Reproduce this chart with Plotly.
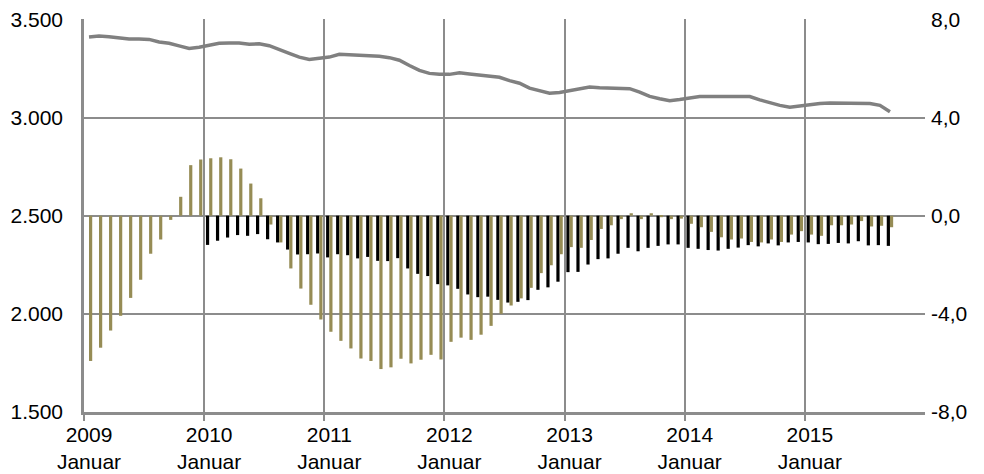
import plotly.graph_objects as go

months = [f"{y}-{m:02d}" for y in range(2009, 2016) for m in range(1, 13)][:81]
year_labels = ["2009<br>Januar", "2010<br>Januar", "2011<br>Januar", "2012<br>Januar",
               "2013<br>Januar", "2014<br>Januar", "2015<br>Januar"]

line_values = [
    3410, 3415, 3412, 3405, 3400, 3400, 3398, 3385, 3378, 3365, 3352, 3358,
    3368, 3378, 3380, 3380, 3373, 3376, 3366, 3345, 3327, 3308, 3296, 3302,
    3308, 3322, 3320, 3318, 3316, 3312, 3305, 3292, 3265, 3240, 3225, 3220,
    3220, 3228, 3222, 3215, 3210, 3205, 3188, 3175, 3150, 3138, 3124, 3128,
    3137, 3148, 3155, 3152, 3150, 3150, 3147, 3130, 3108, 3096, 3086, 3092,
    3100, 3107, 3107, 3106, 3108, 3108, 3107, 3090, 3074, 3062, 3052, 3058,
    3068, 3072, 3074, 3074, 3074, 3074, 3072, 3062, 3030,
]

olive_values = [
    -5.92, -5.38, -4.68, -4.08, -3.35, -2.61, -1.55, -0.97, -0.17, 0.77, 2.06, 2.29,
    2.34, 2.38, 2.30, 1.92, 1.31, 0.71, -0.36, -1.09, -2.15, -2.97, -3.63, -4.23,
    -4.73, -5.10, -5.41, -5.82, -5.92, -6.25, -6.18, -5.83, -6.02, -5.87, -5.67, -5.86,
    -5.14, -4.97, -5.06, -4.85, -4.49, -4.00, -3.66, -3.37, -2.94, -2.34, -2.02, -1.57,
    -1.28, -1.31, -0.99, -0.54, -0.39, -0.14, 0.10, -0.14, 0.10, -0.06, -0.14, -0.12,
    -0.33, -0.47, -0.66, -0.88, -0.97, -0.93, -1.07, -1.09, -0.97, -1.07, -0.77, -0.63,
    -0.77, -0.82, -0.39, -0.39, -0.36, -0.22, -0.44, -0.41, -0.47,
]

black_values = [None] * 12 + [
    -1.19, -1.02, -0.89, -0.79, -0.82, -0.75, -0.96, -1.09, -1.38, -1.58, -1.57, -1.54,
    -1.70, -1.57, -1.61, -1.74, -1.68, -1.84, -1.85, -1.73, -2.15, -2.37, -2.46, -2.79,
    -2.84, -2.98, -3.21, -3.32, -3.30, -3.43, -3.54, -3.51, -3.44, -3.02, -2.92, -2.69,
    -2.30, -2.29, -1.99, -1.77, -1.74, -1.55, -1.31, -1.45, -1.31, -1.23, -1.17, -1.17,
    -1.31, -1.35, -1.40, -1.42, -1.35, -1.30, -1.20, -1.25, -1.13, -1.21, -1.09, -1.07,
    -1.09, -1.16, -1.15, -1.11, -1.13, -1.04, -1.21, -1.20, -1.23,
]

right_ticks = [-8, -4, 0, 4, 8]
right_labels = ["-8,0", "-4,0", "0,0", "4,0", "8,0"]

x = list(range(len(months)))
jan_idx = [i for i in range(0, 84, 12)]
boundaries = [i - 0.5 for i in range(0, 84, 12)]

GRID = "#8c8c8c"
OLIVE = "#968c55"
FONT = dict(family="Liberation Sans, Arial, sans-serif", size=21, color="#000000")

fig = go.Figure()
fig.add_trace(go.Bar(x=x, y=black_values, marker=dict(color="#000000", line_width=0),
                     yaxis="y2", name="black"))
fig.add_trace(go.Bar(x=x, y=olive_values, marker=dict(color=OLIVE, line_width=0),
                     yaxis="y2", name="olive"))
fig.add_trace(go.Scatter(x=x, y=line_values, mode="lines",
                         line=dict(color="#808080", width=3.5), yaxis="y", name="line"))

# the page body has an 8px margin, so the figure is offset by 8px in the window
fig.update_layout(
    width=984, height=474,
    margin=dict(l=76, r=67, t=11, b=70),
    paper_bgcolor="white", plot_bgcolor="white",
    showlegend=False,
    barmode="group", bargap=0.36, bargroupgap=0.0,
    separators=",.",
    font=FONT,
    xaxis=dict(
        range=[-0.5, 83.5], tickmode="array", tickvals=jan_idx, ticktext=year_labels,
        showgrid=False, ticks="", showline=True, linecolor=GRID, linewidth=2.5,
        zeroline=False, tickfont=FONT, ticklabelstandoff=2, automargin=False,
        ticklabeloverflow="allow",
        minor=dict(tickmode="array", tickvals=boundaries, showgrid=True,
                   gridcolor=GRID, gridwidth=2, ticks="outside", ticklen=6,
                   tickcolor=GRID, tickwidth=2),
    ),
    yaxis=dict(
        range=[1500, 3502], tickmode="array", tickvals=[1500, 2000, 2500, 3000, 3500],
        tickformat=",.0f", showgrid=True, gridcolor=GRID, gridwidth=2,
        showline=True, linecolor=GRID, linewidth=2.5, zeroline=False,
        ticks="", ticklabelstandoff=14, tickfont=FONT, automargin=False,
        ticklabeloverflow="allow",
    ),
    yaxis2=dict(
        range=[-8, 8.016], overlaying="y", side="right", tickmode="array",
        tickvals=right_ticks, ticktext=right_labels, showgrid=False,
        showline=False, zeroline=False, ticks="", ticklabelstandoff=5, tickfont=FONT,
        automargin=False, ticklabeloverflow="allow",
    ),
)

fig.write_html("out.html")
